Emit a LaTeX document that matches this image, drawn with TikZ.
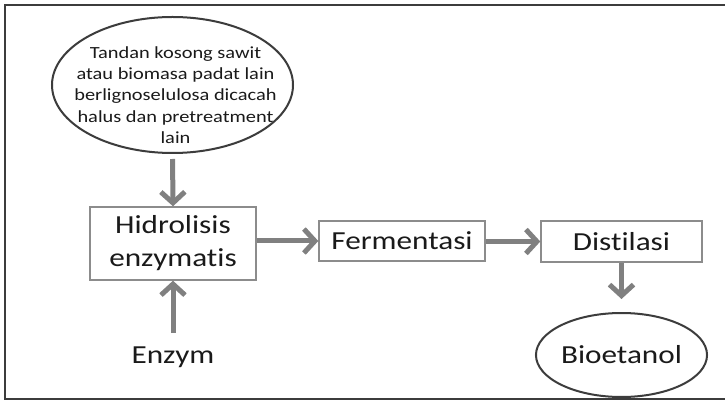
\documentclass[tikz,border=0pt]{standalone}
\usepackage{fontspec}
\setmainfont{Carlito}[FakeStretch=1.2, RawFeature=-liga]
\usetikzlibrary{arrows.meta,shapes.geometric}
\definecolor{arrowgray}{HTML}{808080}
\definecolor{boxgray}{HTML}{8C8C8C}
\definecolor{darkline}{HTML}{3C3C3C}
\definecolor{txt}{HTML}{1A1A1A}
\tikzset{
  flow/.style={draw=arrowgray, line width=5pt, -{Straight Barb[length=11pt,width=24pt]}},
  procbox/.style={draw=boxgray, line width=1.4pt, fill=white, inner sep=0pt, align=center,
    font=\fontsize{26}{33}\selectfont, text=txt},
  endell/.style={ellipse, draw=darkline, line width=2pt, inner sep=0pt},
  bigtext/.style={font=\fontsize{26}{33}\selectfont, text=txt, inner sep=0pt},
}
\begin{document}
\begin{tikzpicture}[x=1pt,y=-1pt]
\useasboundingbox (0,0) rectangle (725,403);
\fill[white] (0,0) rectangle (725,403);
% outer frame (right side lies beyond the picture)
\draw[darkline, line width=2.5pt] (725,5) -- (5,5) -- (5,399) -- (725,399);

% source ellipse
\node[endell, minimum width=241pt, minimum height=136pt] (src) at (172.5,85) {};
\node[font=\fontsize{17}{21.25}\selectfont, text=txt, align=center, inner sep=0pt, anchor=base]
  (srctext) at (175.5,143.3) {Tandan kosong sawit\\atau biomasa padat lain\\berlignoselulosa dicacah\\halus dan pretreatment\\lain};

% process boxes
\node[procbox, minimum width=166pt, minimum height=73pt] (hid) at (173,243.5) {Hidrolisis\\enzymatis};
\node[procbox, minimum width=166pt, minimum height=40pt] (fer) at (402,241) {Fermentasi};
\node[procbox, minimum width=161pt, minimum height=41pt] (dis) at (621.5,241.5) {Distilasi};

% product ellipse
\node[endell, minimum width=147pt, minimum height=84pt, font=\fontsize{26}{33}\selectfont, text=txt] (bio) at (621.5,355) {Bioetanol};

% enzyme label
\node[bigtext, anchor=base] (enz) at (173,363.3) {Enzym};
\coordinate (enztop) at (173,333);

% connectors
\draw[flow, shorten <=5pt] (src.south) -- (hid.north);
\draw[flow] (enztop) -- (hid.south);
\draw[flow] (hid.east |- fer.west) -- (fer.west);
\draw[flow] (fer.east |- dis.west) -- (dis.west);
\draw[flow, shorten >=13pt] (dis.south) -- (bio.north);
\end{tikzpicture}
\end{document}
